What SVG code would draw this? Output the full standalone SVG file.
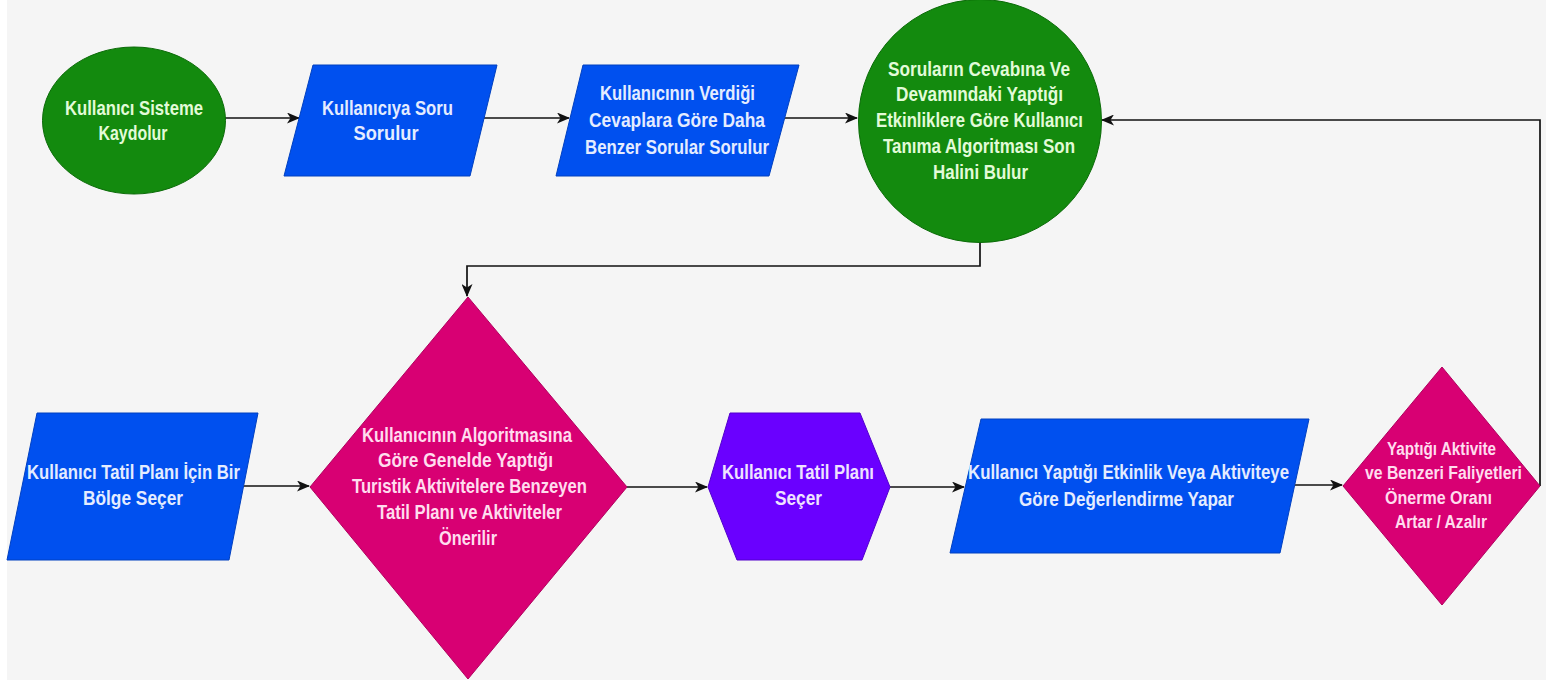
<svg xmlns="http://www.w3.org/2000/svg" width="1546" height="684" viewBox="0 0 1546 684">
<style>
text{font-family:"Liberation Sans",Arial,sans-serif;font-weight:bold;font-size:21px;text-anchor:middle}
.sm{font-size:18px}
.g{fill:#138a0e;stroke:#0b6b08;stroke-width:1}
.b{fill:#0050ef;stroke:#0040c0;stroke-width:1}
.p{fill:#d80073;stroke:#b0005e;stroke-width:1}
.v{fill:#6a00ff;stroke:#5200cc;stroke-width:1}
.tg{fill:#e2fbd8}
.tb{fill:#e4ecff}
.tp{fill:#ffdcee}
.tv{fill:#efe2ff}
.c{fill:none;stroke:#111;stroke-width:1.7}
</style>
<defs>
<marker id="ah" viewBox="0 0 13 11" refX="12" refY="5.5" markerWidth="13" markerHeight="11" markerUnits="userSpaceOnUse" orient="auto">
<path d="M0,0 L13,5.5 L0,11 L3.5,5.5 Z" fill="#111"/>
</marker>
</defs>
<rect x="0" y="0" width="1546" height="684" fill="#ffffff"/>
<rect x="7" y="0" width="1539" height="680" fill="#f5f5f5"/>

<g id="connectors">
<path class="c" d="M225,118 L299,118" marker-end="url(#ah)"/>
<path class="c" d="M484,118 L569,118" marker-end="url(#ah)"/>
<path class="c" d="M785,118 L857,118" marker-end="url(#ah)"/>
<path class="c" d="M980,242 L980,266 L467,266 L467,296" marker-end="url(#ah)"/>
<path class="c" d="M244,486 L309,486" marker-end="url(#ah)"/>
<path class="c" d="M627,487 L707,487" marker-end="url(#ah)"/>
<path class="c" d="M890,487 L964,487" marker-end="url(#ah)"/>
<path class="c" d="M1295,485 L1342,485" marker-end="url(#ah)"/>
<path class="c" d="M1540,486 L1540,120 L1102,120" marker-end="url(#ah)"/>
</g>

<g id="n1">
<ellipse class="g" cx="134" cy="120.5" rx="91.5" ry="73.5"/>
<text class="tg" x="134" y="115" textLength="138" lengthAdjust="spacingAndGlyphs">Kullanıcı Sisteme</text>
<text class="tg" x="133" y="140" textLength="69" lengthAdjust="spacingAndGlyphs">Kaydolur</text>
</g>

<g id="n2">
<polygon class="b" points="313,65 497,65 470,176 284,176"/>
<text class="tb" x="387.5" y="115" textLength="131" lengthAdjust="spacingAndGlyphs">Kullanıcıya Soru</text>
<text class="tb" x="386" y="140" textLength="65" lengthAdjust="spacingAndGlyphs">Sorulur</text>
</g>

<g id="n3">
<polygon class="b" points="583,65 799,65 769,176 556,176"/>
<text class="tb" x="677.5" y="100" textLength="155" lengthAdjust="spacingAndGlyphs">Kullanıcının Verdiği</text>
<text class="tb" x="677" y="127" textLength="176" lengthAdjust="spacingAndGlyphs">Cevaplara Göre Daha</text>
<text class="tb" x="677" y="154" textLength="184" lengthAdjust="spacingAndGlyphs">Benzer Sorular Sorulur</text>
</g>

<g id="n4">
<circle class="g" cx="980" cy="121" r="121.5"/>
<text class="tg" x="979" y="76" textLength="182" lengthAdjust="spacingAndGlyphs">Soruların Cevabına Ve</text>
<text class="tg" x="979.5" y="101" textLength="167" lengthAdjust="spacingAndGlyphs">Devamındaki Yaptığı</text>
<text class="tg" x="979.5" y="127" textLength="207" lengthAdjust="spacingAndGlyphs">Etkinliklere Göre Kullanıcı</text>
<text class="tg" x="979" y="153" textLength="192" lengthAdjust="spacingAndGlyphs">Tanıma Algoritması Son</text>
<text class="tg" x="980.5" y="179" textLength="95" lengthAdjust="spacingAndGlyphs">Halini Bulur</text>
</g>

<g id="n5">
<polygon class="b" points="37,413 258,413 229,560 7,560"/>
<text class="tb" x="133.5" y="479" textLength="213" lengthAdjust="spacingAndGlyphs">Kullanıcı Tatil Planı İçin Bir</text>
<text class="tb" x="133" y="505" textLength="100" lengthAdjust="spacingAndGlyphs">Bölge Seçer</text>
</g>

<g id="n6">
<polygon class="p" points="468,297 627,487 468,679 310,487"/>
<text class="tp" x="467" y="442" textLength="210" lengthAdjust="spacingAndGlyphs">Kullanıcının Algoritmasına</text>
<text class="tp" x="465.5" y="467" textLength="175" lengthAdjust="spacingAndGlyphs">Göre Genelde Yaptığı</text>
<text class="tp" x="469.5" y="493" textLength="235" lengthAdjust="spacingAndGlyphs">Turistik Aktivitelere Benzeyen</text>
<text class="tp" x="469.5" y="519" textLength="185" lengthAdjust="spacingAndGlyphs">Tatil Planı ve Aktiviteler</text>
<text class="tp" x="468" y="545" textLength="58" lengthAdjust="spacingAndGlyphs">Önerilir</text>
</g>

<g id="n7">
<polygon class="v" points="708,487 730,413 860,413 890,487 862,560 737,560"/>
<text class="tv" x="798" y="479" textLength="152" lengthAdjust="spacingAndGlyphs">Kullanıcı Tatil Planı</text>
<text class="tv" x="798.5" y="505" textLength="47" lengthAdjust="spacingAndGlyphs">Seçer</text>
</g>

<g id="n8">
<polygon class="b" points="981,419 1309,419 1280,553 950,553"/>
<text class="tb" x="1128.5" y="479" textLength="321" lengthAdjust="spacingAndGlyphs">Kullanıcı Yaptığı Etkinlik Veya Aktiviteye</text>
<text class="tb" x="1126.5" y="506" textLength="215" lengthAdjust="spacingAndGlyphs">Göre Değerlendirme Yapar</text>
</g>

<g id="n9">
<polygon class="p" points="1442,367 1540,486 1442,605 1343,486"/>
<text class="tp sm" x="1441.5" y="455" textLength="109" lengthAdjust="spacingAndGlyphs">Yaptığı Aktivite</text>
<text class="tp sm" x="1443.5" y="479" textLength="157" lengthAdjust="spacingAndGlyphs">ve Benzeri Faliyetleri</text>
<text class="tp sm" x="1438.5" y="504" textLength="107" lengthAdjust="spacingAndGlyphs">Önerme Oranı</text>
<text class="tp sm" x="1441" y="528" textLength="92" lengthAdjust="spacingAndGlyphs">Artar / Azalır</text>
</g>
</svg>
